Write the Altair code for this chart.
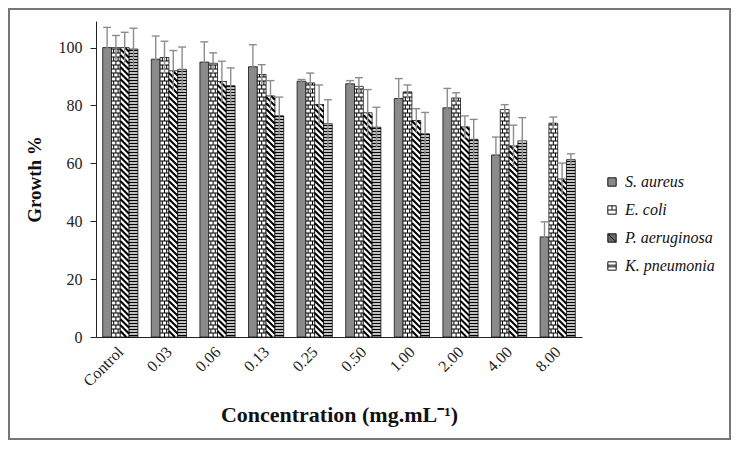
import altair as alt
import numpy as np
import pandas as pd

categories = ["Control", "0.03", "0.06", "0.13", "0.25", "0.50", "1.00", "2.00", "4.00", "8.00"]
series = ["S. aureus", "E. coli", "P. aeruginosa", "K. pneumonia"]

s_aureus = [100, 96, 95, 93.4, 88.4, 87.5, 82.4, 79.2, 62.9, 34.6]
s_aureus_sd = [7, 8, 7, 7.6, 0.6, 1.1, 6.9, 6.7, 6.2, 5.2]
e_coli = [100, 96.6, 94.6, 90.7, 87.8, 86.6, 84.7, 82.6, 78.6, 73.9]
e_coli_sd = [4.2, 5.6, 3.6, 3.4, 3.4, 3.0, 2.4, 1.8, 1.7, 2.1]
p_aeruginosa = [100, 92, 88.3, 83.3, 80.3, 77.5, 74.8, 72.6, 66, 54.6]
p_aeruginosa_sd = [5.3, 7, 7, 5.3, 6.8, 8, 4.1, 3.8, 7.2, 5.5]
k_pneumonia = [99.5, 92.5, 86.8, 76.4, 73.7, 72.5, 70.2, 68.3, 67.8, 61.3]
k_pneumonia_sd = [7.2, 7.7, 6.2, 6.5, 8.3, 6.9, 7.4, 6.9, 8, 2]

values = [s_aureus, e_coli, p_aeruginosa, k_pneumonia]
sds = [s_aureus_sd, e_coli_sd, p_aeruginosa_sd, k_pneumonia_sd]

# layout constants (style, not data)
W, H = 486, 316
YMAX = 109.2
BW = 0.181  # bar width in category units
PX = H / YMAX  # pixels per value unit
fills = ["#8a8a8a", "#ffffff", "#ffffff", "#ffffff"]

rows = []
for j, s in enumerate(series):
    for i, c in enumerate(categories):
        left = i + (j - 2) * BW
        v = values[j][i]
        sd = sds[j][i]
        rows.append(dict(series=s, cat=c, left=left, right=left + BW, center=left + BW / 2,
                         value=v, lo=v - sd, hi=v + sd, capl=left + 0.05 * BW, capr=left + 0.95 * BW,
                         fill=fills[j]))
bars_df = pd.DataFrame(rows)

# pattern lines derived from each bar's value
pat = []
for _, r in bars_df.iterrows():
    v = r["value"]
    if r["series"] == "K. pneumonia":
        step = 3.0 / PX
        for y in np.arange(step * 0.5, v - 0.2, step):
            pat.append(dict(x=r["left"], x2=r["right"], y=y, y2=y, w=1.5))
    elif r["series"] == "E. coli":
        step = 4.0 / PX
        levels = list(np.arange(step, v - 0.3, step))
        for y in levels:
            pat.append(dict(x=r["left"], x2=r["right"], y=y, y2=y, w=1.0))
        edges = [0.0] + levels + [v]
        for k in range(len(edges) - 1):
            ys, ye = edges[k], edges[k + 1]
            xs = [r["left"] + BW / 2] if k % 2 == 0 else [r["left"] + BW / 4, r["left"] + 3 * BW / 4]
            for xx in xs:
                pat.append(dict(x=xx, x2=xx, y=ys, y2=ye, w=1.0))
    elif r["series"] == "P. aeruginosa":
        d = (BW * W / 10) / PX  # drop across bar width for 45 degrees
        step = 6.0 / PX
        for cval in np.arange(0, v + d, step):
            t0 = max(0.0, (cval - v) / d)
            t1 = min(1.0, cval / d)
            if t1 - t0 > 0.02:
                pat.append(dict(x=r["left"] + t0 * BW, x2=r["left"] + t1 * BW,
                                y=cval - t0 * d, y2=cval - t1 * d, w=2.0))
pat_df = pd.DataFrame(pat)

xscale = alt.Scale(domain=[-0.5, 9.5], nice=False, zero=False)
yscale = alt.Scale(domain=[0, YMAX], nice=False)

label_expr = "[" + ",".join("'" + c + "'" for c in categories) + "][datum.value]"

x_axis = alt.Axis(values=list(range(len(categories))), labelExpr=label_expr, labelAngle=-45,
                  labelAlign="right", labelBaseline="middle", ticks=False, grid=False,
                  labelPadding=12, labelFont="Liberation Serif", labelFontSize=16, labelColor="#222",
                  domainColor="#222", title="Concentration (mg.mL\u207b\u00b9)", titleFont="Liberation Serif",
                  titleFontSize=22, titleFontWeight="bold", titleColor="#111", titlePadding=15)
y_axis = alt.Axis(values=[0, 20, 40, 60, 80, 100], grid=False, tickSize=6, tickColor="#222",
                  domainColor="#222", labelPadding=8, labelFont="Liberation Serif", labelFontSize=16,
                  labelColor="#222", title="Growth %", titleFont="Liberation Serif", titleFontSize=19,
                  titleFontWeight="bold", titleColor="#111", titlePadding=14)

base = alt.Chart(bars_df)

bars = base.mark_rect(stroke="#111", strokeWidth=0.8).encode(
    x=alt.X("left:Q", scale=xscale, axis=x_axis),
    x2="right:Q",
    y=alt.Y("value:Q", scale=yscale, axis=y_axis),
    y2=alt.datum(0),
    fill=alt.Fill("fill:N", scale=None),
)

patterns = alt.Chart(pat_df).mark_rule(color="#000", strokeCap="butt").encode(
    x="x:Q", x2="x2:Q", y="y:Q", y2="y2:Q",
    strokeWidth=alt.StrokeWidth("w:Q", scale=None),
)

err = base.mark_rule(color="#8c8c8c", strokeWidth=1.4).encode(
    x="center:Q", y="lo:Q", y2="hi:Q"
)
caps = base.mark_rule(color="#8c8c8c", strokeWidth=1.4).encode(
    x="capl:Q", x2="capr:Q", y="hi:Q"
)

legend_df = pd.DataFrame({"series": series})
legend_layer = alt.Chart(legend_df).mark_point(size=0, stroke="#111", strokeWidth=1, opacity=1).encode(
    x=alt.datum(0),
    y=alt.datum(0),
    fill=alt.Fill("series:N", scale=alt.Scale(domain=series, range=["#8a8a8a", "#ffffff", "#6a6a6a", "#ffffff"]),
                  legend=alt.Legend(title=None, orient="none", legendX=508, legendY=153,
                                    labelFont="Liberation Serif", labelFontSize=16, labelFontStyle="italic",
                                    labelColor="#111", symbolSize=70, symbolStrokeColor="#111",
                                    symbolStrokeWidth=1, symbolOpacity=1,
                                    rowPadding=12, labelOffset=5, padding=0)),
    shape=alt.Shape("series:N", scale=alt.Scale(domain=series, range=[
        "M-1,-1H1V1H-1Z",
        "M-1,-1H1V1H-1Z M-1,0H1 M0,-1V0",
        "M-1,-1H1V1H-1Z M-1,-1L1,1",
        "M-1,-1H1V1H-1Z M-1,-0.2H1 M-1,0.2H1",
    ]), legend=alt.Legend(title=None, orient="none", legendX=508, legendY=153)),
)

border = alt.Chart(pd.DataFrame({"a": [0]})).mark_rect(fill=None, stroke="#777", strokeWidth=2).encode(
    x=alt.value(-87), x2=alt.value(634), y=alt.value(-12), y2=alt.value(418)
)

chart = alt.layer(bars, patterns, err, caps, legend_layer, border).properties(
    width=W, height=H,
    padding={"left": 88, "top": 13, "right": 149, "bottom": 103},
    autosize=alt.AutoSizeParams(type="none"),
    background="white",
).configure_view(stroke=None)

chart.save("out.html", embed_options={"renderer": "svg", "actions": False})
